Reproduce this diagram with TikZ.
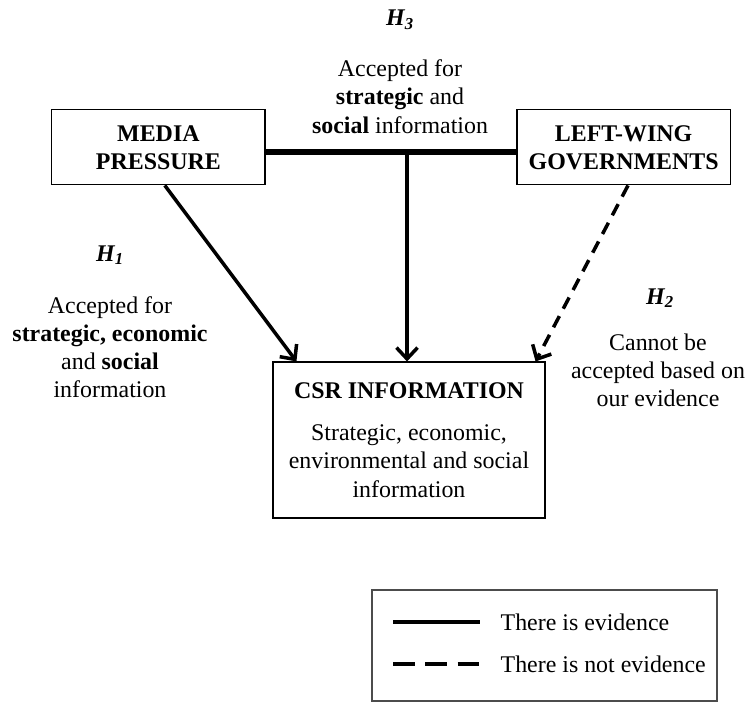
\documentclass[tikz,border=0pt]{standalone}
\usepackage{fontspec}
\setmainfont{Liberation Serif}
\usetikzlibrary{arrows.meta,positioning}
\newcommand{\diagfont}{\fontsize{17}{20}\selectfont}
\tikzset{
  box/.style={draw, line width=0.8pt, align=center, font=\diagfont\bfseries,
    minimum width=5.33cm, minimum height=1.875cm},
  evid/.style={line width=2.5pt, -{Straight Barb[length=8pt,width=15pt]}},
  noevid/.style={evid, dash pattern=on 9pt off 6pt},
  hyp/.style={font=\diagfont\bfseries\itshape},
  note/.style={align=center, font=\diagfont},
  key/.style={line width=2.8pt}
}
\begin{document}
\begin{tikzpicture}
    \useasboundingbox (0,0) rectangle (18.8,17.575);
    % boxes
    \node[box] (media) at (3.96,13.89) {MEDIA\\PRESSURE};
    \node[box] (left) at (15.59,13.89) {LEFT-WING\\GOVERNMENTS};
    \node[box, minimum width=6.8cm, minimum height=3.9cm] (csr) at (10.225,6.575)
        {CSR INFORMATION\\[10pt]\mdseries Strategic, economic,\\\mdseries environmental and social\\\mdseries information};
    % hypotheses
    \node[hyp] (h3) at (10,17.075) {H\textsubscript{3}};
    \node[note] (h3txt) at (10,15.16) {Accepted for\\\textbf{strategic} and\\\textbf{social} information};
    \node[hyp] (h1) at (2.75,11.2) {H\textsubscript{1}};
    \node[note] (h1txt) at (2.75,8.89) {Accepted for\\\textbf{strategic, economic}\\and \textbf{social}\\information};
    \node[hyp] (h2) at (16.5,10.125) {H\textsubscript{2}};
    \node[note] (h2txt) at (16.45,8.325) {Cannot be\\accepted based on\\our evidence};
    % links
    \coordinate (join) at (10.175,13.775);
    \draw[line width=4.5pt] (media.east |- join) -- (left.west |- join);
    \draw[evid] (join) -- (join |- csr.north);
    \draw[evid] ([xshift=0.16cm]media.south) -- ([xshift=0.6cm]csr.north west);
    \draw[noevid] ([xshift=0.11cm]left.south) -- ([xshift=-0.25cm]csr.north east);
    % legend
    \node[draw=black!70, line width=0.8pt, minimum width=8.625cm, minimum height=2.775cm] (legend) at (13.6125,1.4375) {};
    \coordinate (k1) at (9.825,2.025);
    \coordinate (k2) at (9.825,0.975);
    \draw[key] (k1) -- ++(2.175,0) node[right=0.35cm, font=\diagfont] (k1txt) {There is evidence};
    \draw[key, dash pattern=on 15.5pt off 7.5pt] (k2) -- ++(2.175,0) node[right=0.35cm, font=\diagfont] (k2txt) {There is not evidence};
\end{tikzpicture}
\end{document}
